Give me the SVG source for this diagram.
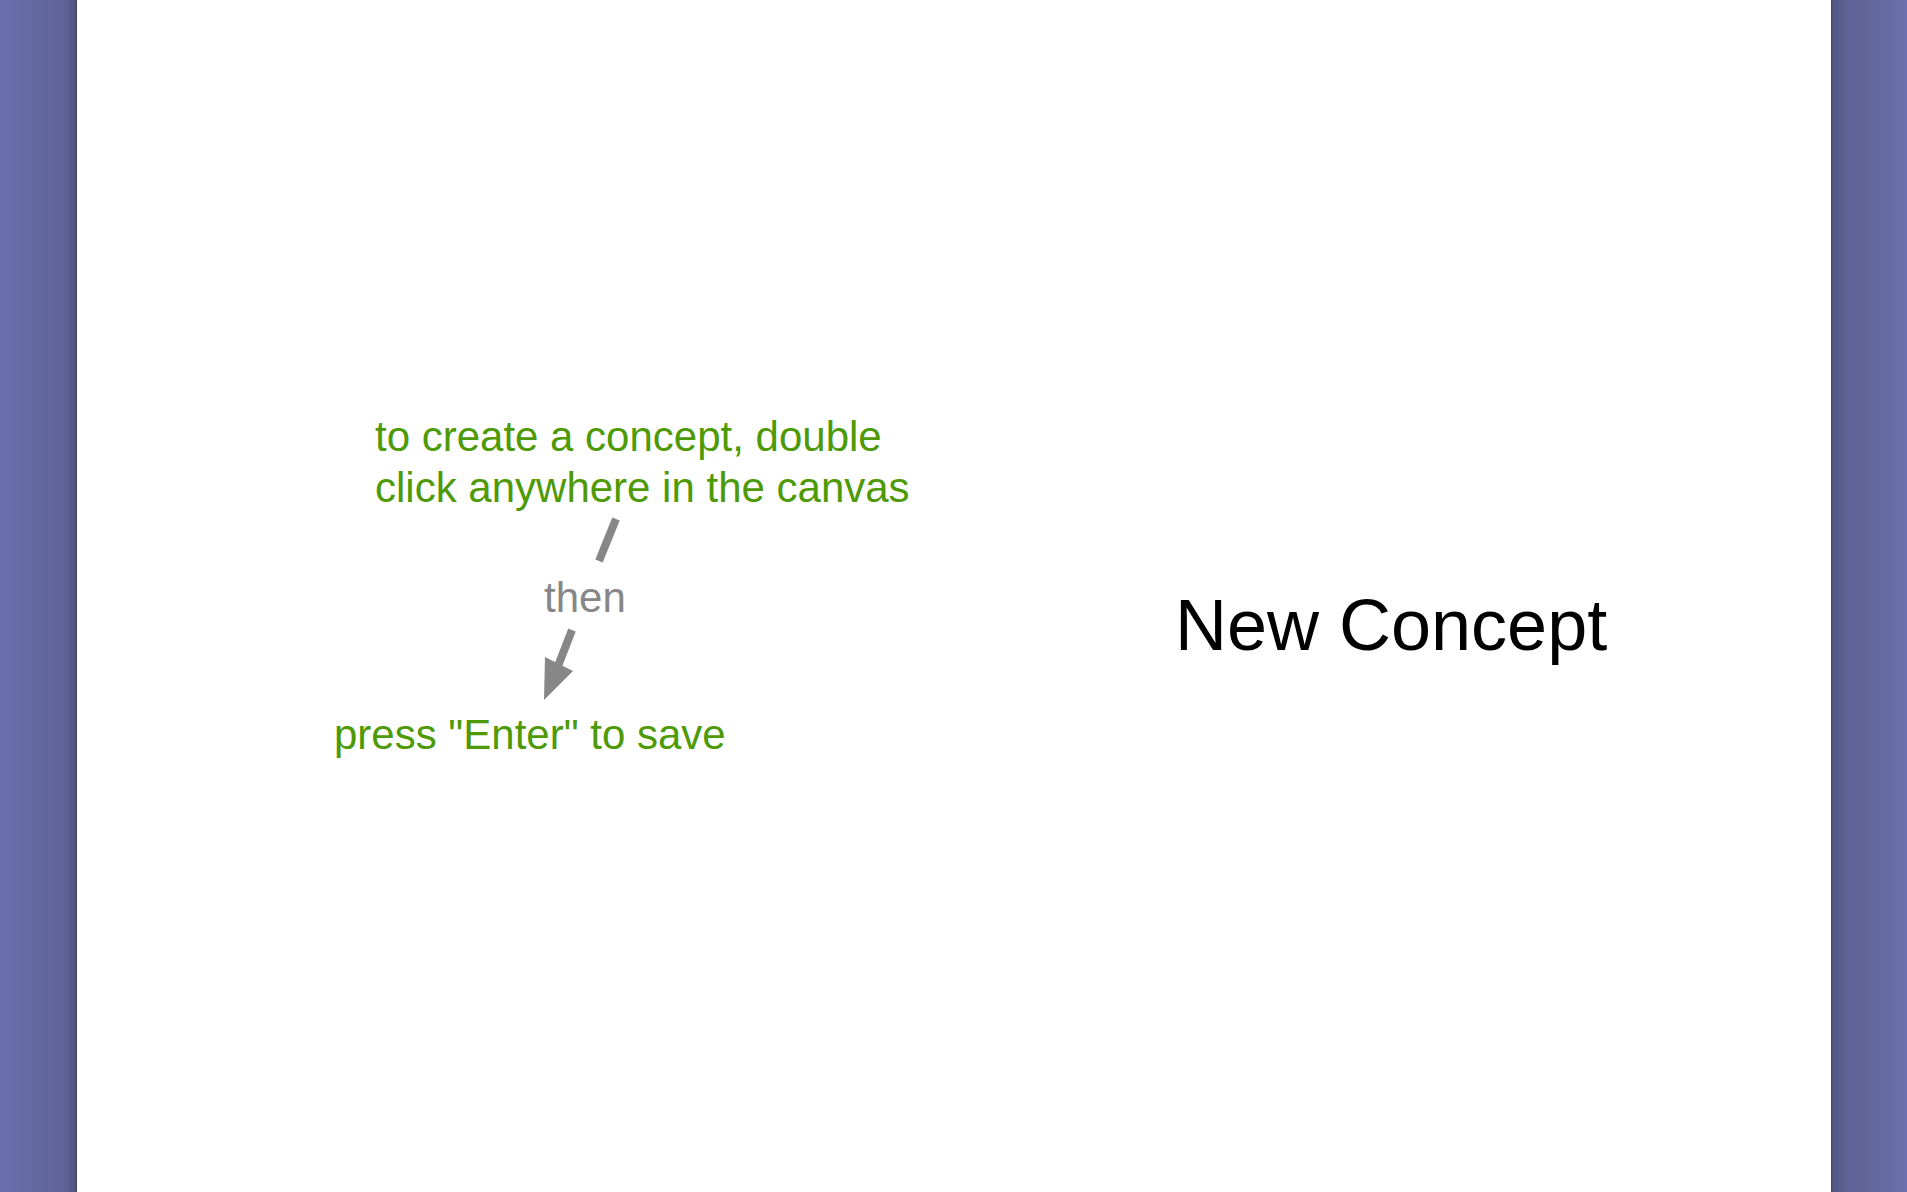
<svg xmlns="http://www.w3.org/2000/svg" width="1907" height="1192" viewBox="0 0 1907 1192">
  <defs>
    <linearGradient id="gl" x1="0" y1="0" x2="1" y2="0">
      <stop offset="0" stop-color="#6b70ac"/>
      <stop offset="0.85" stop-color="#5f6398"/>
      <stop offset="0.97" stop-color="#50547f"/>
      <stop offset="1" stop-color="#3e4266"/>
    </linearGradient>
    <linearGradient id="gr" x1="0" y1="0" x2="1" y2="0">
      <stop offset="0" stop-color="#44486e"/>
      <stop offset="0.03" stop-color="#545886"/>
      <stop offset="0.2" stop-color="#5d6194"/>
      <stop offset="1" stop-color="#6b70ac"/>
    </linearGradient>
  </defs>
  <style>
    .note { font-family: "Liberation Sans", Arial, Helvetica, sans-serif; font-size: 42px; fill: #4e9a06; }
    .label { font-family: "Liberation Sans", Arial, Helvetica, sans-serif; font-size: 42px; fill: #878787; }
    .concept { font-family: "Liberation Sans", Arial, Helvetica, sans-serif; font-size: 72px; fill: #000000; }
    .link { stroke: #878787; stroke-width: 8; fill: none; }
    .head { fill: #878787; stroke: none; }
  </style>
  <rect x="0" y="0" width="1907" height="1192" fill="#ffffff"/>
  <rect x="0" y="0" width="77" height="1192" fill="url(#gl)"/>
  <rect x="1831" y="0" width="76" height="1192" fill="url(#gr)"/>

  <g id="connectors">
    <line class="link" x1="616" y1="519" x2="599" y2="561"/>
    <line class="link" x1="572" y1="630" x2="558" y2="666"/>
    <polygon class="head" points="544,700 545,657 573,671"/>
    <text class="label" x="544" y="612">then</text>
  </g>

  <g id="node-create">
    <text class="note" x="375" y="451">to create a concept, double</text>
    <text class="note" x="375" y="502">click anywhere in the canvas</text>
  </g>

  <g id="node-enter">
    <text class="note" x="334" y="749">press "Enter" to save</text>
  </g>

  <g id="node-new-concept">
    <text class="concept" x="1175" y="650">New Concept</text>
  </g>
</svg>
